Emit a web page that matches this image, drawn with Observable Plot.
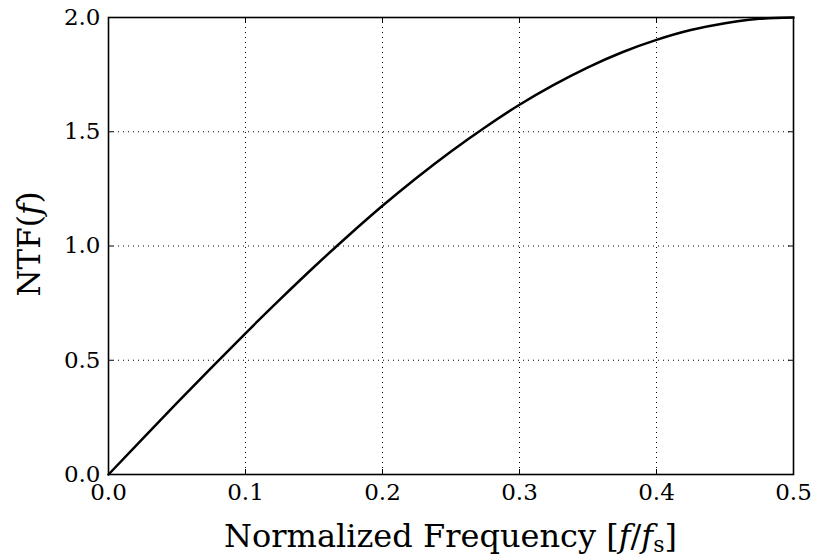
<!DOCTYPE html>
<html>
<head>
<meta charset="utf-8">
<script src="https://cdn.jsdelivr.net/npm/d3@7"></script>
<script src="https://cdn.jsdelivr.net/npm/@observablehq/plot@0.6"></script>
</head>
<body style="margin:0">
<div id="chart"></div>
<script>
// Values
const freq = [0, 0.025, 0.05, 0.075, 0.1, 0.125, 0.15, 0.175, 0.2, 0.225, 0.25,
              0.275, 0.3, 0.325, 0.35, 0.375, 0.4, 0.425, 0.45, 0.475, 0.5];
const ntf  = [0, 0.157, 0.313, 0.467, 0.618, 0.765, 0.908, 1.045, 1.176, 1.299, 1.414,
              1.520, 1.618, 1.705, 1.782, 1.848, 1.902, 1.945, 1.975, 1.994, 2.0];
const xTicks = [0, 0.1, 0.2, 0.3, 0.4, 0.5];
const yTicks = [0, 0.5, 1.0, 1.5, 2.0];

const data = freq.map((f, i) => ({f, v: ntf[i]}));

const W = 814, H = 559;
const mL = 108, mR = 21, mT = 17, mB = 85;
const pw = W - mL - mR, ph = H - mT - mB;
const FONT = "DejaVu Serif";

const plot = Plot.plot({
  width: W, height: H,
  marginLeft: mL, marginRight: mR, marginTop: mT, marginBottom: mB,
  x: {domain: [0, 0.5]},
  y: {domain: [0, 2]},
  marks: [
    Plot.gridX(xTicks, {stroke: "black", strokeOpacity: 1, strokeWidth: 1, strokeDasharray: "1,4"}),
    Plot.gridY(yTicks, {stroke: "black", strokeOpacity: 1, strokeWidth: 1, strokeDasharray: "1,4"}),
    Plot.tickX(xTicks, {x: d => d, insetTop: ph - 5, stroke: "black"}),
    Plot.tickX(xTicks, {x: d => d, insetBottom: ph - 5, stroke: "black"}),
    Plot.tickY(yTicks, {y: d => d, insetRight: pw - 5, stroke: "black"}),
    Plot.tickY(yTicks, {y: d => d, insetLeft: pw - 5, stroke: "black"}),
    Plot.axisX(xTicks, {tickSize: 0, tickPadding: 9, tickFormat: d3.format(".1f"), label: null, fontSize: 23, fontFamily: FONT, fill: "black"}),
    Plot.axisY(yTicks, {tickSize: 0, tickPadding: 8, tickFormat: d3.format(".1f"), label: null, fontSize: 23, fontFamily: FONT, fill: "black"}),
    Plot.line(data, {x: "f", y: "v", stroke: "black", strokeWidth: 2.5, curve: "monotone-x"}),
    Plot.frame({stroke: "black", strokeWidth: 1.6})
  ]
});

const svg = d3.select(plot);
// X axis label
const xl = svg.append("text")
  .attr("x", mL + pw / 2).attr("y", 547)
  .attr("text-anchor", "middle")
  .attr("font-family", FONT).attr("font-size", 32).attr("fill", "black");
xl.append("tspan").text("Normalized Frequency [");
xl.append("tspan").attr("font-style", "italic").text("f");
xl.append("tspan").text("/");
xl.append("tspan").attr("font-style", "italic").text("f");
xl.append("tspan").attr("font-size", 22).attr("dy", 5).text("s");
xl.append("tspan").attr("dy", -5).text("]");

// Y axis label
const yl = svg.append("text")
  .attr("transform", `translate(40, 244) rotate(-90)`)
  .attr("text-anchor", "middle")
  .attr("font-family", FONT).attr("font-size", 31).attr("fill", "black");
yl.append("tspan").text("NTF(");
yl.append("tspan").attr("font-style", "italic").text("f");
yl.append("tspan").text(")");

document.getElementById("chart").appendChild(plot);
</script>
</body>
</html>
